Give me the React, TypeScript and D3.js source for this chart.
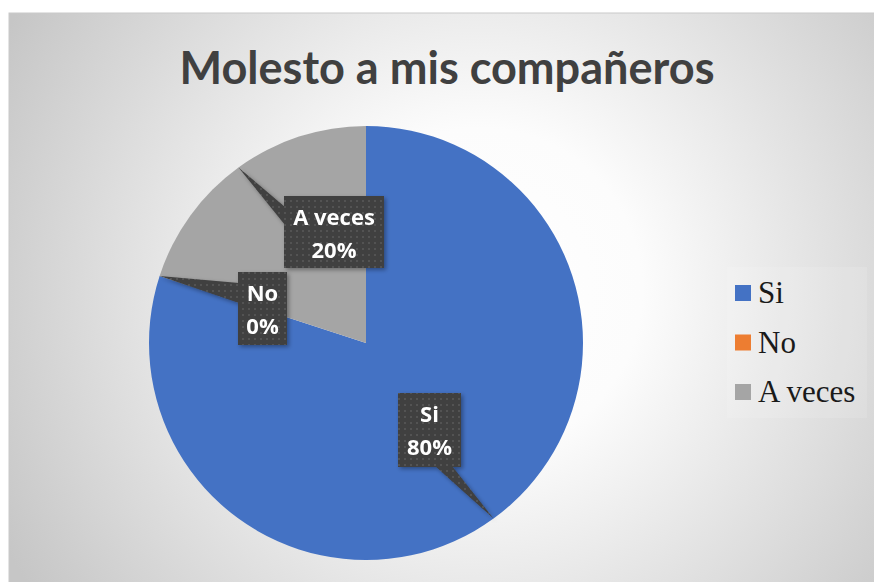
import React from 'react';
import * as d3 from 'd3';

const title = 'Molesto a mis compañeros';
const categories = ['Si', 'No', 'A veces'];
const values = [80, 0, 20];
const percentLabels = ['80%', '0%', '20%'];
const colors = ['#4472C4', '#ED7D31', '#A5A5A5'];

// label box layout (offset of box centre from pie centre, size, callout base)
const labelLayout = [
  { dx: 63.5, dy: 87, w: 63, h: 74, side: 'bottom', b0: 37, b1: 54 },
  { dx: -103.5, dy: -34.5, w: 49, h: 73, side: 'left', b0: 11, b1: 31 },
  { dx: -32, dy: -111, w: 100, h: 72, side: 'left', b0: 11, b1: 29 },
];

const W = 874;
const H = 582;
const frame = { x: 9, y: 13 };
const cx = 366;
const cy = 343;
const R = 217;

export default function App() {
  const pie = d3.pie<number>().sort(null).value((d) => d)(values);
  const arc = d3.arc<d3.PieArcDatum<number>>().innerRadius(0).outerRadius(R);

  const legendY = d3.scaleLinear().domain([0, 1]).range([303, 352.5]);

  return (
    <svg
      width={W}
      height={H}
      style={{ position: 'fixed', left: 0, top: 0, display: 'block' }}
    >
      <defs>
        <radialGradient id="bg" gradientUnits="userSpaceOnUse" cx={480} cy={290} r={540}>
          <stop offset="0" stopColor="#ffffff" />
          <stop offset="0.3" stopColor="#fcfcfc" />
          <stop offset="1" stopColor="#c6c6c6" />
        </radialGradient>
        <pattern id="dots" width="6" height="6" patternUnits="userSpaceOnUse">
          <rect width="6" height="6" fill="#3f3f3f" />
          <rect x="2" y="2" width="2" height="2" fill="#525252" />
        </pattern>
        <filter id="shadow" x="-30%" y="-30%" width="160%" height="160%">
          <feDropShadow dx="2" dy="2" stdDeviation="2" floodColor="#000" floodOpacity="0.35" />
        </filter>
      </defs>
      <rect x={0} y={0} width={W} height={H} fill="#ffffff" />
      <rect
        x={frame.x}
        y={frame.y}
        width={W - frame.x + 2}
        height={H - frame.y + 2}
        fill="url(#bg)"
        stroke="#c9c9c9"
        strokeWidth={1}
      />
      <text
        x={447}
        y={84}
        textAnchor="middle"
        fontFamily="Lato, 'Open Sans', sans-serif"
        fontWeight={700}
        fontSize={45}
        fill="#404040"
        textLength={535}
        lengthAdjust="spacingAndGlyphs"
      >
        {title}
      </text>

      <g transform={`translate(${cx},${cy})`}>
        {pie.map((p, i) => (
          <path key={categories[i]} d={arc(p) || ''} fill={colors[i]} />
        ))}
      </g>

      {pie.map((p, i) => {
        const L = labelLayout[i];
        const mid = (p.startAngle + p.endAngle) / 2;
        const tipX = cx + R * Math.sin(mid);
        const tipY = cy - R * Math.cos(mid);
        const bx = cx + L.dx - L.w / 2;
        const by = cy + L.dy - L.h / 2;
        let pts: [number, number][];
        if (L.side === 'left') {
          pts = [[tipX, tipY], [bx + 1, by + L.b0], [bx + 1, by + L.b1]];
        } else if (L.side === 'bottom') {
          pts = [[tipX, tipY], [bx + L.b0, by + L.h - 1], [bx + L.b1, by + L.h - 1]];
        } else {
          pts = [[tipX, tipY], [bx + L.b0, by + 1], [bx + L.b1, by + 1]];
        }
        return (
          <g key={'lbl' + i} filter="url(#shadow)">
            <polygon points={pts.map((q) => q.join(',')).join(' ')} fill="url(#dots)" />
            <rect x={bx} y={by} width={L.w} height={L.h} fill="url(#dots)" />
            <text
              x={bx + L.w / 2}
              y={by + 29}
              textAnchor="middle"
              fontFamily="'Open Sans', Lato, sans-serif"
              fontWeight={700}
              fontSize={22}
              fill="#ffffff"
            >
              {categories[i]}
            </text>
            <text
              x={bx + L.w / 2}
              y={by + 62}
              textAnchor="middle"
              fontFamily="'Open Sans', Lato, sans-serif"
              fontWeight={700}
              fontSize={22}
              fill="#ffffff"
            >
              {percentLabels[i]}
            </text>
          </g>
        );
      })}

      <rect x={727} y={267} width={140} height={151} fill="#ffffff" fillOpacity={0.12} />
      {categories.map((c, i) => (
        <g key={'leg' + c}>
          <rect x={735} y={legendY(i) - 18} width={16} height={16} fill={colors[i]} />
          <text
            x={758}
            y={legendY(i)}
            fontFamily="'Liberation Serif', 'Times New Roman', serif"
            fontSize={31}
            fill="#1a1a1a"
          >
            {c}
          </text>
        </g>
      ))}
    </svg>
  );
}
